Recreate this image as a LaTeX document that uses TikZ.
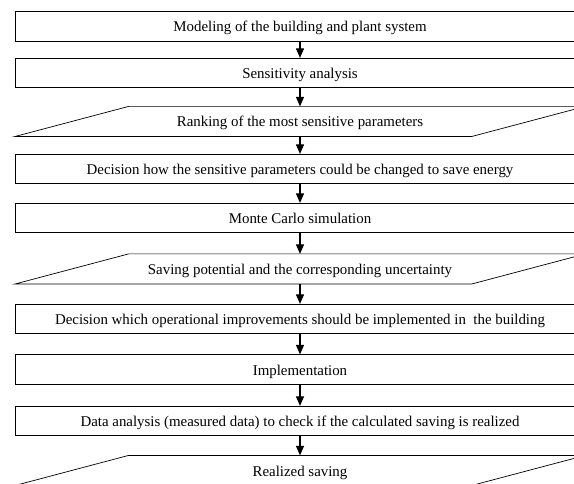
\documentclass[tikz,border=0pt]{standalone}
\usepackage{fontspec}
\setmainfont{Liberation Serif}
\usetikzlibrary{arrows.meta}
\begin{document}
\begin{tikzpicture}[
                x=1pt, y=-1pt,
                box/.style={rectangle, draw, line width=0.7pt, minimum width=570pt, minimum height=29.5pt,
                    inner sep=0pt, text height=12pt, text depth=1pt, font=\fontsize{14.9}{17}\selectfont},
                data/.style={box, draw=none},
                flow/.style={line width=1.1pt, -{Triangle[length=9.5pt, width=8pt]}}
            ]
                \useasboundingbox (0,0) rectangle (574,484);
                \clip (0,0) rectangle (574,484);
                
                % Steps of the procedure
                \node[box] (model) at (300,26.5) {Modeling of the building and plant system};
                \node[box] (sens) at (300,73) {Sensitivity analysis};
                \node[data] (rank) at (300,121.5) {Ranking of the most sensitive parameters};
                \node[box] (decide) at (300,169) {Decision how the sensitive parameters could be changed to save energy};
                \node[box] (monte) at (300,218) {Monte Carlo simulation};
                \node[data] (saving) at (300,269) {Saving potential and the corresponding uncertainty};
                \node[box] (improve) at (300,319) {Decision which operational improvements should be implemented in~ the building};
                \node[box] (implement) at (300,369.5) {Implementation};
                \node[box] (analysis) at (300,421) {Data analysis (measured data) to check if the calculated saving is realized};
                \node[data] (realized) at (300,470.5) {Realized saving};
                
                % Outlines of the result boxes
                \foreach \d in {rank,saving,realized}
                    \draw[line width=0.7pt] (\d.south west) -- ([xshift=114pt]\d.north west)
                        -- (\d.north east) -- ([xshift=-114pt]\d.south east) -- cycle;
                
                % Connections
                \foreach \a/\b in {model/sens, sens/rank, rank/decide, decide/monte, monte/saving,
                                   saving/improve, improve/implement, implement/analysis, analysis/realized}
                    \draw[flow] (\a) -- (\b);
            \end{tikzpicture}
\end{document}
